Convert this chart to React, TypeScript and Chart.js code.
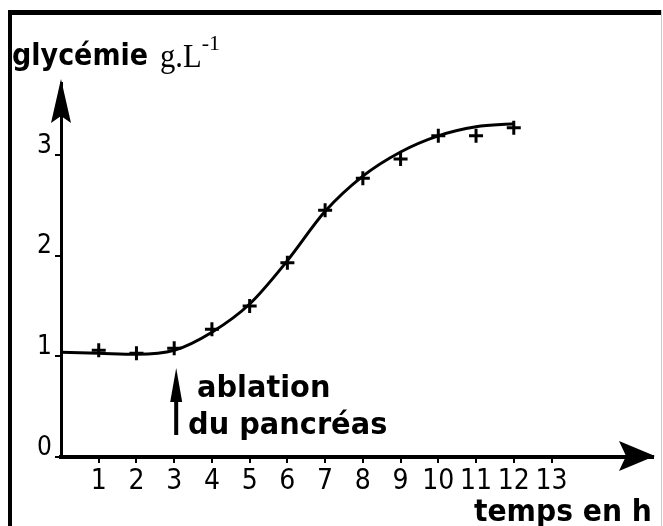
import React, { useEffect, useRef } from "react";
import { Chart, registerables } from "chart.js";

Chart.register(...registerables);

// Data
const measuredHours = [1, 2, 3, 4, 5, 6, 7, 8, 9, 10, 11, 12];
const measuredGlycemia = [1.06, 1.03, 1.08, 1.27, 1.5, 1.93, 2.45, 2.77, 2.96, 3.19, 3.19, 3.27];
const curveHours = [0, 1, 2, 3, 4, 5, 6, 7, 8, 9, 10, 11, 12];
const curveGlycemia = [1.04, 1.03, 1.02, 1.06, 1.24, 1.52, 1.95, 2.44, 2.79, 3.03, 3.19, 3.28, 3.31];
const xTickValues = [1, 2, 3, 4, 5, 6, 7, 8, 9, 10, 11, 12, 13];
const yTickValues = [0, 1, 2, 3];
const ablationHour = 3;

const yTitle = "glycémie";
const yUnit = "g.L";
const yUnitExp = "-1";
const xTitle = "temps en h";
const annotLine1 = "ablation";
const annotLine2 = "du pancréas";

const W = 663;
const H = 526;
const BOLD = "bold 31px 'DejaVu Sans', sans-serif";
const TICK_FONT = "'Liberation Sans Narrow', 'DejaVu Sans Condensed', sans-serif";

function squeezedText(ctx: any, text: string, x: number, y: number, sx: number) {
  ctx.save();
  ctx.translate(x, y);
  ctx.scale(sx, 1);
  ctx.fillText(text, 0, 0);
  ctx.restore();
}

const decorPlugin = {
  id: "decor",
  beforeDraw(chart: any) {
    const ctx = chart.ctx;
    ctx.save();
    ctx.fillStyle = "#fff";
    ctx.fillRect(0, 0, W, H);
    // frame
    ctx.fillStyle = "#000";
    ctx.fillRect(8, 10, 4, H - 10);
    ctx.fillRect(8, 10, 654, 5);
    ctx.fillStyle = "#c8c8c8";
    ctx.fillRect(661, 10, 1, H - 10);
    ctx.restore();
  },
  afterDraw(chart: any) {
    const ctx = chart.ctx;
    const xs = chart.scales.x;
    const ys = chart.scales.y;
    const area = chart.chartArea;
    ctx.save();
    ctx.fillStyle = "#000";
    // y-axis arrowhead
    const yx = xs.getPixelForValue(0);
    ctx.beginPath();
    ctx.moveTo(yx, area.top - 4);
    ctx.lineTo(yx - 10, area.top + 40);
    ctx.lineTo(yx, area.top + 33);
    ctx.lineTo(yx + 10, area.top + 40);
    ctx.closePath();
    ctx.fill();
    // x-axis arrowhead
    const xy = ys.getPixelForValue(0);
    ctx.beginPath();
    ctx.moveTo(area.right + 2, xy - 1);
    ctx.lineTo(area.right - 34, xy - 16);
    ctx.lineTo(area.right - 27, xy - 1);
    ctx.lineTo(area.right - 34, xy + 14);
    ctx.closePath();
    ctx.fill();

    // ablation arrow
    const ax = xs.getPixelForValue(ablationHour) + 2;
    ctx.fillRect(ax - 2, 395, 4, 40);
    ctx.beginPath();
    ctx.moveTo(ax, 368);
    ctx.lineTo(ax - 6, 402);
    ctx.lineTo(ax + 6, 402);
    ctx.closePath();
    ctx.fill();

    // texts
    ctx.textBaseline = "alphabetic";
    ctx.textAlign = "left";
    ctx.font = BOLD;
    squeezedText(ctx, yTitle, 12, 65, 0.87);
    squeezedText(ctx, annotLine1, 197, 397, 0.93);
    squeezedText(ctx, annotLine2, 188, 434, 0.93);
    squeezedText(ctx, xTitle, 474, 521, 0.91);
    ctx.font = "34px 'Liberation Serif', serif";
    squeezedText(ctx, yUnit, 160, 67, 0.9);
    const uw = ctx.measureText(yUnit).width * 0.9;
    ctx.font = "22px 'Liberation Serif', serif";
    ctx.fillText(yUnitExp, 160 + uw, 50);
    ctx.restore();
  },
};

export default function App() {
  const ref = useRef<HTMLCanvasElement | null>(null);
  useEffect(() => {
    const canvas = ref.current;
    if (!canvas) return;
    const chart = new Chart(canvas, {
      type: "scatter",
      data: {
        datasets: [
          {
            label: "courbe",
            data: curveHours.map((h, i) => ({ x: h, y: curveGlycemia[i] })),
            showLine: true,
            borderColor: "#000",
            borderWidth: 3,
            pointRadius: 0,
            cubicInterpolationMode: "monotone",
            fill: false,
          },
          {
            label: "mesures",
            data: measuredHours.map((h, i) => ({ x: h, y: measuredGlycemia[i] })),
            showLine: false,
            pointStyle: "cross",
            pointRadius: 7,
            pointBorderWidth: 3,
            borderColor: "#000",
            backgroundColor: "#000",
          },
        ],
      },
      options: {
        animation: false,
        responsive: false,
        devicePixelRatio: 1,
        layout: { padding: { left: 21, right: 9, top: 83, bottom: 29 } },
        plugins: { legend: { display: false }, tooltip: { enabled: false } },
        scales: {
          x: {
            type: "linear",
            min: 0,
            max: 15.69,
            afterFit: (s: any) => {
              s.height = 40;
            },
            afterBuildTicks: (s: any) => {
              s.ticks = xTickValues.map((v) => ({ value: v }));
            },
            ticks: {
              color: "#000",
              font: { family: TICK_FONT, size: 28 },
              padding: 2,
              autoSkip: false,
              maxRotation: 0,
              callback: (v: any) => String(v),
            },
            grid: {
              drawOnChartArea: false,
              drawTicks: true,
              tickLength: 6,
              color: "#000",
              lineWidth: 2,
            },
            border: { display: true, color: "#000", width: 4 },
          },
          y: {
            type: "linear",
            min: 0,
            max: 3.715,
            afterFit: (s: any) => {
              s.width = 40;
            },
            afterBuildTicks: (s: any) => {
              s.ticks = yTickValues.map((v) => ({ value: v }));
            },
            ticks: {
              color: "#000",
              font: { family: TICK_FONT, size: 26 },
              padding: 3,
              labelOffset: -9,
              callback: (v: any) => String(v),
            },
            grid: {
              drawOnChartArea: false,
              drawTicks: true,
              tickLength: 6,
              color: "#000",
              lineWidth: 2,
            },
            border: { display: true, color: "#000", width: 3 },
          },
        },
      },
      plugins: [decorPlugin],
    });
    return () => chart.destroy();
  }, []);
  return (
    <div style={{ position: "absolute", left: 0, top: 0, width: W, height: H }}>
      <canvas ref={ref} width={W} height={H} style={{ display: "block" }} />
    </div>
  );
}
